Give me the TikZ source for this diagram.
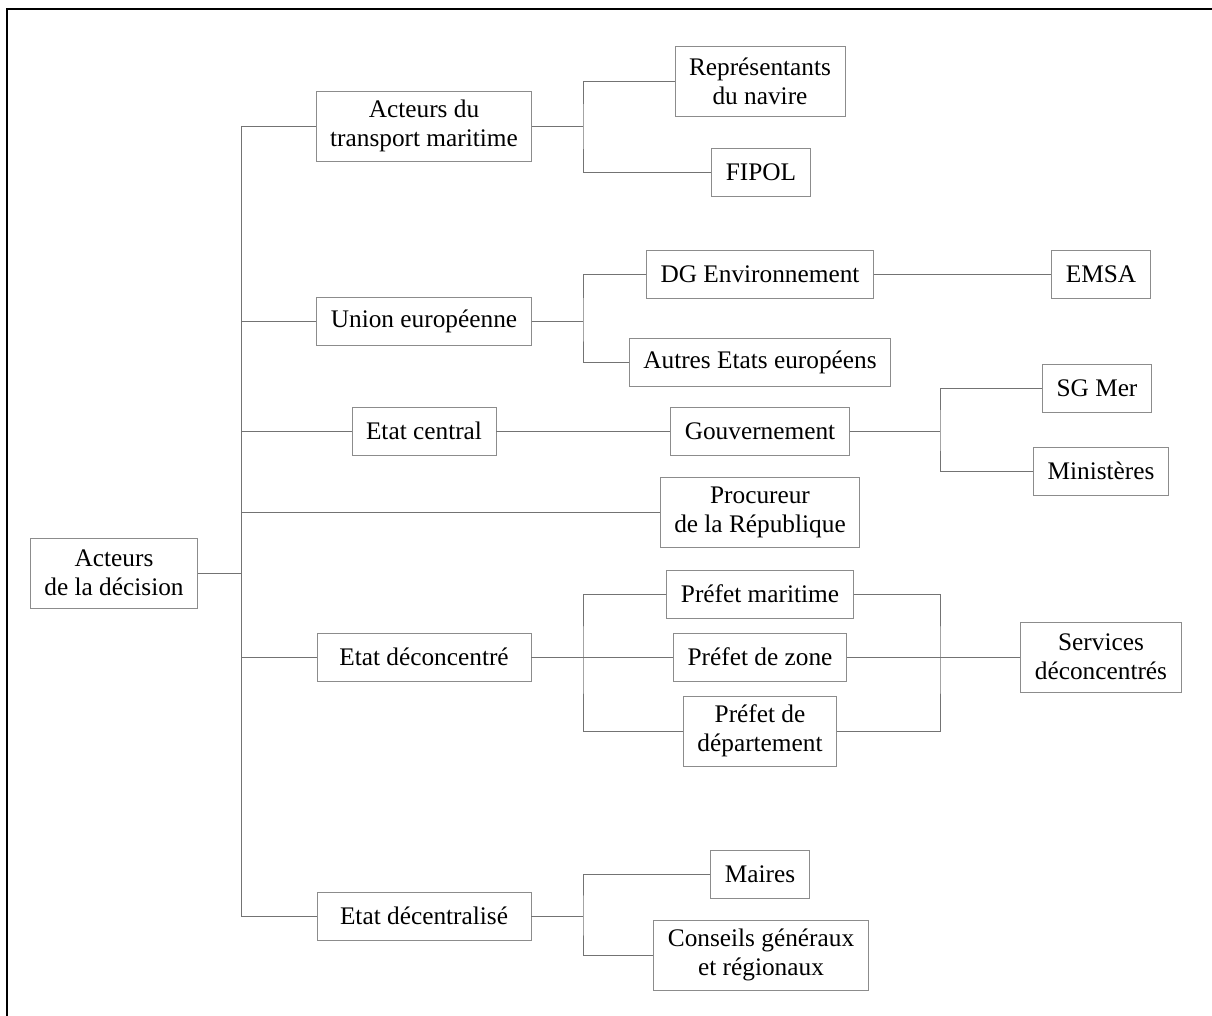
\documentclass[tikz,border=0pt]{standalone}
\usepackage{fontspec}
\setmainfont{Liberation Serif}
\tikzset{
  actor/.style={draw=black!45, line width=0.6pt, align=center, inner xsep=10pt, inner ysep=0pt, minimum height=1.2cm, font=\fontsize{18}{20.6}\selectfont},
  actortwo/.style={actor, minimum height=1.75cm},
  wide/.style={minimum width=5.35cm},
  link/.style={draw=black!55, line width=0.6pt},
  frame/.style={draw=black, line width=0.9pt},
}
\begin{document}
\begin{tikzpicture}[x=0.025cm, y=-0.025cm]
\useasboundingbox (0,0) rectangle (1212,1016);
\draw[frame] (7,1016) -- (7,9) -- (1212,9);
\node[actortwo] (root) at (114,573) {Acteurs\\de la décision};
\node[actortwo] (transp) at (424,126) {Acteurs du\\transport maritime};
\node[actor, wide] (ue) at (424,321) {Union européenne};
\node[actor] (central) at (424,431) {Etat central};
\node[actortwo] (procureur) at (760,512) {Procureur\\de la République};
\node[actor, wide] (deconc) at (424,657) {Etat déconcentré};
\node[actor, wide] (decentr) at (424,916) {Etat décentralisé};
\node[actortwo] (repr) at (760,81) {Représentants\\du navire};
\node[actor] (fipol) at (761,172) {FIPOL};
\node[actor] (dgenv) at (760,274) {DG Environnement};
\node[actor] (emsa) at (1101,274) {EMSA};
\node[actor] (autres) at (760,362) {Autres Etats européens};
\node[actor] (gouv) at (760,431) {Gouvernement};
\node[actor] (sgmer) at (1097,388) {SG Mer};
\node[actor] (minist) at (1101,471) {Ministères};
\node[actor] (pmar) at (760,594) {Préfet maritime};
\node[actor] (pzone) at (760,657) {Préfet de zone};
\node[actortwo] (pdep) at (760,731) {Préfet de\\département};
\node[actortwo] (services) at (1101,657) {Services\\déconcentrés};
\node[actor] (maires) at (760,874) {Maires};
\node[actortwo] (conseils) at (761,955) {Conseils généraux\\et régionaux};
\coordinate (top) at (241,126);
\coordinate (bot) at (241,916);
\coordinate (kt) at (583,126);
\coordinate (ku) at (583,321);
\coordinate (kg) at (940,431);
\coordinate (kl) at (583,657);
\coordinate (kr) at (940,657);
\coordinate (kd) at (583,916);
\draw[link] (top) -- (bot);
\draw[link] (root.east) -- (root.east -| top);
\draw[link] (top) -- (transp.west);
\draw[link] (ue.west -| top) -- (ue.west);
\draw[link] (central.west -| top) -- (central.west);
\draw[link] (procureur.west -| top) -- (procureur.west);
\draw[link] (deconc.west -| top) -- (deconc.west);
\draw[link] (bot) -- (decentr.west);
\draw[link] (transp.east) -- (kt);
\draw[link] (repr.west) -| (kt) |- (fipol.west);
\draw[link] (ue.east) -- (ku);
\draw[link] (dgenv.west) -| (ku) |- (autres.west);
\draw[link] (dgenv) -- (emsa);
\draw[link] (central) -- (gouv);
\draw[link] (gouv.east) -- (kg);
\draw[link] (sgmer.west) -| (kg) |- (minist.west);
\draw[link] (deconc.east) -- (pzone.west);
\draw[link] (pmar.west) -| (kl) |- (pdep.west);
\draw[link] (pzone.east) -- (services.west);
\draw[link] (pmar.east) -| (kr) |- (pdep.east);
\draw[link] (decentr.east) -- (kd);
\draw[link] (maires.west) -| (kd) |- (conseils.west);
\end{tikzpicture}
\end{document}
